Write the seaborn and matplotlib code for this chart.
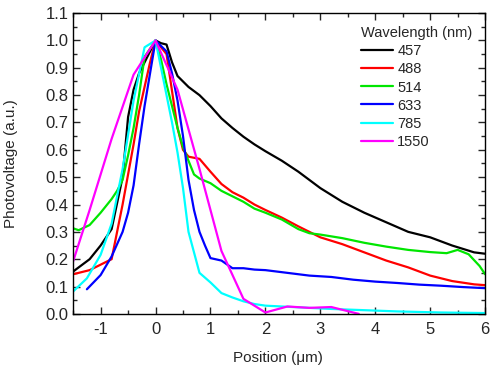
import numpy as np
import pandas as pd
import seaborn as sns
import matplotlib.pyplot as plt
from matplotlib.ticker import MultipleLocator, FuncFormatter

# wavelength labels
wavelengths = ['457', '488', '514', '633', '785', '1550']
colors = ['#000000', '#ff0000', '#00e600', '#0000ff', '#00ffff', '#ff00ff']

# position (um) / photovoltage (a.u.)
x457 = [-1.5, -1.2, -1.0, -0.8, -0.6, -0.5, -0.4, -0.3, -0.2, -0.1, 0, 0.1, 0.2, 0.3, 0.4,
        0.6, 0.8, 1.0, 1.2, 1.4, 1.6, 1.8, 2.0, 2.3, 2.6, 3.0, 3.4, 3.8, 4.2, 4.6, 5.0, 5.4, 5.8, 6.0]
y457 = [0.155, 0.20, 0.25, 0.31, 0.50, 0.72, 0.82, 0.88, 0.92, 0.96, 1.0, 0.99, 0.985, 0.92, 0.87,
        0.83, 0.80, 0.76, 0.715, 0.68, 0.648, 0.62, 0.595, 0.56, 0.52, 0.46, 0.41, 0.37, 0.335, 0.30,
        0.28, 0.25, 0.225, 0.22]

x488 = [-1.5, -1.2, -0.8, -0.6, -0.4, -0.3, -0.2, -0.1, 0, 0.2, 0.4, 0.5, 0.6, 0.8, 1.0, 1.2,
        1.4, 1.6, 1.8, 2.0, 2.3, 2.6, 3.0, 3.4, 3.8, 4.2, 4.6, 5.0, 5.4, 5.8, 6.0]
y488 = [0.145, 0.16, 0.20, 0.40, 0.62, 0.74, 0.83, 0.92, 1.0, 0.95, 0.68, 0.60, 0.575, 0.567,
        0.52, 0.475, 0.445, 0.425, 0.40, 0.38, 0.352, 0.32, 0.28, 0.255, 0.225, 0.195, 0.17,
        0.14, 0.12, 0.108, 0.105]

x514 = [-1.5, -1.4, -1.2, -1.0, -0.8, -0.7, -0.6, -0.5, -0.4, -0.3, -0.2, -0.1, 0, 0.1, 0.2,
        0.3, 0.4, 0.5, 0.6, 0.7, 0.8, 1.0, 1.2, 1.4, 1.6, 1.8, 2.0, 2.3, 2.6, 2.8, 3.0, 3.4,
        3.8, 4.2, 4.6, 5.0, 5.3, 5.5, 5.7, 5.9, 6.0]
y514 = [0.313, 0.306, 0.325, 0.37, 0.42, 0.45, 0.49, 0.58, 0.68, 0.80, 0.94, 0.97, 1.0, 0.93,
        0.84, 0.76, 0.68, 0.61, 0.56, 0.51, 0.495, 0.478, 0.45, 0.43, 0.41, 0.385, 0.37, 0.345,
        0.31, 0.295, 0.29, 0.277, 0.26, 0.246, 0.234, 0.226, 0.222, 0.234, 0.218, 0.175, 0.145]

x633 = [-1.25, -1.0, -0.8, -0.6, -0.5, -0.4, -0.3, -0.2, -0.1, 0, 0.2, 0.3, 0.4, 0.5, 0.6,
        0.7, 0.8, 0.9, 1.0, 1.2, 1.4, 1.6, 1.8, 2.0, 2.4, 2.8, 3.2, 3.6, 4.0, 4.4, 4.8, 5.2,
        5.6, 6.0]
y633 = [0.09, 0.142, 0.21, 0.30, 0.37, 0.47, 0.62, 0.76, 0.88, 1.0, 0.96, 0.88, 0.78, 0.65,
        0.49, 0.38, 0.30, 0.25, 0.204, 0.195, 0.167, 0.167, 0.162, 0.16, 0.15, 0.14, 0.135,
        0.125, 0.118, 0.113, 0.107, 0.103, 0.098, 0.094]

x785 = [-1.5, -1.25, -1.0, -0.8, -0.6, -0.4, -0.2, 0, 0.1, 0.2, 0.3, 0.4, 0.5, 0.6, 0.8,
        1.0, 1.2, 1.4, 1.6, 1.8, 2.0, 2.4, 2.8, 3.2, 3.6, 4.0, 4.4, 4.8, 5.2, 5.6, 6.0]
y785 = [0.082, 0.13, 0.216, 0.33, 0.53, 0.78, 0.975, 1.0, 0.90, 0.80, 0.70, 0.59, 0.46, 0.30,
        0.15, 0.115, 0.076, 0.06, 0.046, 0.036, 0.03, 0.026, 0.022, 0.018, 0.015, 0.012,
        0.009, 0.007, 0.005, 0.004, 0.003]

x1550 = [-1.6, -1.2, -0.8, -0.4, 0, 0.4, 0.8, 1.2, 1.6, 2.0, 2.4, 2.8, 3.2, 3.7]
y1550 = [0.13, 0.38, 0.64, 0.875, 1.0, 0.82, 0.53, 0.23, 0.055, 0.005, 0.027, 0.022, 0.025, 0.0]

xs = [x457, x488, x514, x633, x785, x1550]
ys = [y457, y488, y514, y633, y785, y1550]

df = pd.concat([pd.DataFrame({'pos': x, 'pv': y, 'wl': w}) for x, y, w in zip(xs, ys, wavelengths)],
               ignore_index=True)

sns.set_style('ticks')
plt.rcParams['font.family'] = ['Liberation Sans', 'DejaVu Sans']

fig = plt.figure(figsize=(4.91, 3.75), dpi=100)
ax = fig.add_axes([0.149, 0.163, 0.839, 0.802])

sns.lineplot(data=df, x='pos', y='pv', hue='wl', hue_order=wavelengths,
             palette=colors, sort=False, estimator=None, linewidth=1.6, ax=ax)

ax.set_xlim(-1.5, 6)
ax.set_ylim(0, 1.1)
ax.xaxis.set_major_locator(MultipleLocator(1))
ax.xaxis.set_minor_locator(MultipleLocator(0.5))
ax.yaxis.set_major_locator(MultipleLocator(0.1))
ax.yaxis.set_minor_locator(MultipleLocator(0.05))
ax.xaxis.set_major_formatter(FuncFormatter(lambda v, p: '%d' % round(v)))
ax.yaxis.set_major_formatter(FuncFormatter(lambda v, p: '%.1f' % v))
ax.tick_params(which='both', direction='in', top=True, right=True, labelsize=12, width=1)
ax.tick_params(which='major', length=5)
ax.tick_params(which='minor', length=3)
ax.tick_params(axis='x', pad=6)
for s in ax.spines.values():
    s.set_linewidth(1)
    s.set_color('black')

ax.set_xlabel('Position (\u03bcm)', fontsize=11)
ax.set_ylabel('Photovoltage (a.u.)', fontsize=11)
ax.xaxis.set_label_coords(0.498, -0.125)
ax.yaxis.set_label_coords(-0.133, 0.5)

leg = ax.legend(title='Wavelength (nm)', loc='upper right', frameon=False, fontsize=10.5,
                title_fontsize=10.5, handlelength=2.2, handletextpad=0.3, labelspacing=0.28,
                borderaxespad=0.5)
leg._legend_box.align = 'left'

fig.savefig('out.png', dpi=100)
